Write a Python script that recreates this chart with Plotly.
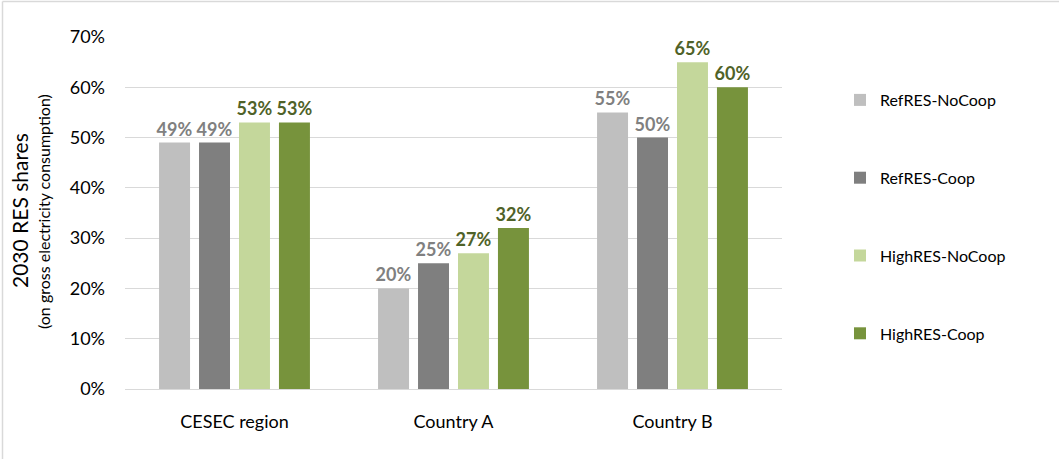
import plotly.graph_objects as go

categories = ["CESEC region", "Country A", "Country B"]
series_names = ["RefRES-NoCoop", "RefRES-Coop", "HighRES-NoCoop", "HighRES-Coop"]
ref_nocoop = [0.49, 0.20, 0.55]
ref_coop = [0.49, 0.25, 0.50]
high_nocoop = [0.53, 0.27, 0.65]
high_coop = [0.53, 0.32, 0.60]
y_ticks = [0, 0.1, 0.2, 0.3, 0.4, 0.5, 0.6, 0.7]
y_title = "2030 RES shares"
y_subtitle = "(on gross electricity consumption)"

values = [ref_nocoop, ref_coop, high_nocoop, high_coop]
bar_colors = ["#BFBFBF", "#7F7F7F", "#C4D79B", "#77933C"]
label_colors = ["#808080", "#808080", "#4F6228", "#4F6228"]

FONT = "Lato, 'Open Sans', sans-serif"

fig = go.Figure()
for name, vals, bc, lc in zip(series_names, values, bar_colors, label_colors):
    fig.add_trace(go.Bar(
        x=categories, y=vals, name=name, legendgroup=name,
        marker=dict(color=bc, line=dict(width=0)),
        texttemplate="%{y:.0%}", textposition="outside", constraintext="none",
        textfont=dict(color=lc, size=18, family=FONT, weight="bold"),
        cliponaxis=False,
    ))

L, R, T, B = 125, 782, 37, 389
W, H = 1059, 459
pw, ph = R - L, B - T
def px(x):
    return (x - L) / pw
def py(y):
    return (B - y) / ph

fig.update_layout(
    width=W, height=H,
    margin=dict(l=L, r=W - R, t=T, b=H - B, pad=0),
    paper_bgcolor="white", plot_bgcolor="white",
    barmode="group", bargap=0.27, bargroupgap=0.225,
    font=dict(family=FONT, size=17, color="#000000"),
    showlegend=True,
    legend=dict(x=px(840), y=py(83), xanchor="left", yanchor="top",
                font=dict(size=16, color="#000000"), tracegroupgap=54,
                itemwidth=30, bgcolor="rgba(0,0,0,0)"),
    xaxis=dict(showgrid=False, showline=True, linecolor="#D9D9D9", linewidth=1,
               ticks="", tickfont=dict(size=18), ticklabelstandoff=16),
    yaxis=dict(range=[0, 0.7], tickvals=y_ticks, tickformat=".0%",
               showgrid=True, gridcolor="#D9D9D9", gridwidth=1,
               zeroline=False, showline=False, ticks="", ticklen=0,
               tickfont=dict(size=18), ticklabelstandoff=19),
    annotations=[
        dict(text=y_title, textangle=-90, xref="paper", yref="paper",
             x=px(20), y=py(211), xanchor="center", yanchor="middle",
             showarrow=False, font=dict(size=21, color="#000000")),
        dict(text=y_subtitle, textangle=-90, xref="paper", yref="paper",
             x=px(43), y=py(212), xanchor="center", yanchor="middle",
             showarrow=False, font=dict(size=16, color="#000000")),
    ],
    shapes=[
        dict(type="line", xref="paper", yref="paper", x0=px(2.5), x1=px(2.5), y0=py(1.5), y1=py(459),
             line=dict(color="#D9D9D9", width=1.5)),
        dict(type="line", xref="paper", yref="paper", x0=px(2.5), x1=px(1059), y0=py(1.5), y1=py(1.5),
             line=dict(color="#D9D9D9", width=1.5)),
    ],
)

fig.write_html("out.html")
